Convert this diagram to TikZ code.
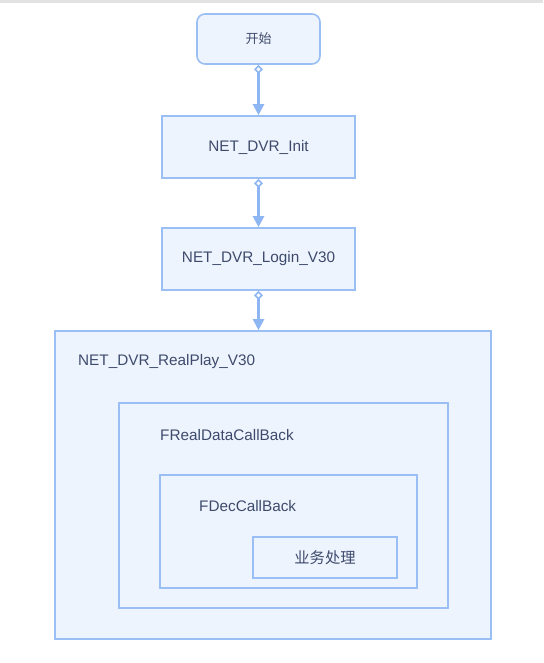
\documentclass[tikz,border=0pt]{standalone}
\usepackage{fontspec}
\setmainfont{Liberation Sans}
\newfontfamily\cjk{Noto Sans CJK SC}
\usepackage{tikz}
\usetikzlibrary{arrows.meta,positioning}

\definecolor{lineblue}{HTML}{99BFF4}
\definecolor{arrowblue}{HTML}{8DB6F2}
\definecolor{fillblue}{HTML}{EEF4FD}
\definecolor{textblue}{HTML}{3D4A6C}
\definecolor{topgray}{HTML}{E2E2E2}

\begin{document}
\begin{tikzpicture}[
  x=1pt, y=-1pt,
  font=\fontsize{15.3}{18}\selectfont,
  box/.style={draw=lineblue, line width=1.6pt, fill=fillblue, text=textblue, inner sep=0pt, align=center},
  tag/.style={text=textblue, inner sep=0pt, anchor=west},
  arrow/.style={draw=arrowblue, line width=2.2pt,
    {Diamond[open,length=9pt,width=9pt,line width=1.6pt]}-{Triangle[length=11pt,width=11pt]}}
]
\useasboundingbox (0,0) rectangle (543,663);
\fill[topgray] (0,0) rectangle (543,3);

% flow of calls
\node[box, rounded corners=8pt, minimum width=123pt, minimum height=50pt] (start) at (258.5,39) {\cjk\fontsize{13}{16}\selectfont 开始};
\node[box, minimum width=193pt, minimum height=62pt] (init) at (258.5,147) {NET\_DVR\_Init};
\node[box, minimum width=193pt, minimum height=62pt] (login) at (258.5,259) {NET\_DVR\_Login\_V30};

% nested callbacks
\node[box, minimum width=436pt, minimum height=308pt] (realplay) at (273,485) {};
\node[box, minimum width=329pt, minimum height=205pt] (realdata) at (283.5,505.5) {};
\node[box, minimum width=257pt, minimum height=113pt] (dec) at (288.5,531.5) {};
\node[box, minimum width=144pt, minimum height=41pt] (biz) at (325,557.5) {\cjk 业务处理};

\node[tag] (realplaytag) at (78,362) {NET\_DVR\_RealPlay\_V30};
\node[tag] (realdatatag) at (160,435) {FRealDataCallBack};
\node[tag] (dectag) at (199,506) {FDecCallBack};

\draw[arrow] (start) -- (init);
\draw[arrow] (init) -- (login);
\draw[arrow] (login) -- (login |- realplay.north);
\end{tikzpicture}
\end{document}
